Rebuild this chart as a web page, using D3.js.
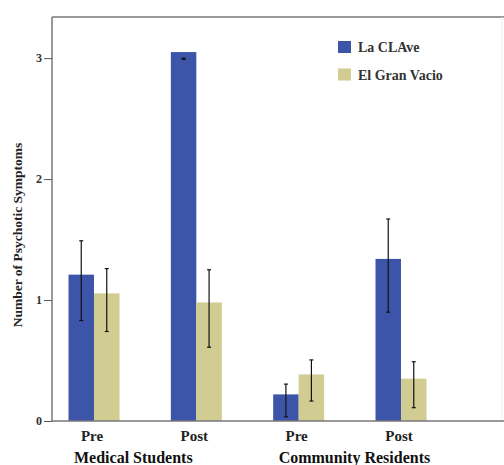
<!DOCTYPE html>
<html>
<head>
<meta charset="utf-8">
<script src="https://cdn.jsdelivr.net/npm/d3@7"></script>
<style>
  body { margin: 0; background: #fff; }
  text { font-family: "Liberation Serif", "DejaVu Serif", serif; font-weight: bold; }
</style>
</head>
<body>
<div id="chart"></div>
<script>
// Chart data
const groups = ["Medical Students", "Community Residents"];
const phases = ["Pre", "Post"];
const series = ["La CLAve", "El Gran Vacio"];
// means, one per group/phase, in order: MS Pre, MS Post, CR Pre, CR Post
const claveMeans = [1.21, 3.05, 0.22, 1.34];
const claveLow   = [0.83, 2.99, 0.035, 0.90];
const claveHigh  = [1.49, 3.00, 0.305, 1.67];
const vacioMeans = [1.055, 0.98, 0.385, 0.35];
const vacioLow   = [0.74, 0.61, 0.165, 0.11];
const vacioHigh  = [1.26, 1.25, 0.505, 0.49];
const yTicks = [0, 1, 2, 3];

const width = 504, height = 465;
const margin = {left: 52, right: 0, top: 17, bottom: 44};
const colors = ["#3c55a9", "#d0cc92"];

// Build rows for drawing
const cells = [];
groups.forEach(g => phases.forEach(p => cells.push(g + "|" + p)));
const rows = [];
cells.forEach((c, i) => {
    rows.push({cell: c, s: series[0], v: claveMeans[i], lo: claveLow[i], hi: claveHigh[i]});
    rows.push({cell: c, s: series[1], v: vacioMeans[i], lo: vacioLow[i], hi: vacioHigh[i]});
});

const svg = d3.select("#chart").append("svg")
    .attr("width", width)
    .attr("height", height);

const y = d3.scaleLinear()
    .domain([0, 3.34])
    .range([height - margin.bottom, margin.top]);

// x positions of the cells (centre of each pair of bars)
const x = d3.scalePoint()
    .domain(cells)
    .range([94, 401]);

const barW = 25.5;
const xs = d3.scaleBand().domain(series).range([-barW, barW]);

// frame lines
svg.append("line")
    .attr("x1", margin.left).attr("x2", width)
    .attr("y1", margin.top).attr("y2", margin.top)
    .attr("stroke", "#777").attr("stroke-width", 1.5);
svg.append("line")
    .attr("x1", 502).attr("x2", 502)
    .attr("y1", margin.top).attr("y2", height - margin.bottom)
    .attr("stroke", "#eee").attr("stroke-width", 1);

// bars
svg.append("g")
    .selectAll("rect")
    .data(rows)
    .join("rect")
    .attr("x", d => x(d.cell) + xs(d.s))
    .attr("width", xs.bandwidth())
    .attr("y", d => y(d.v))
    .attr("height", d => y(0) - y(d.v))
    .attr("fill", (d, i) => colors[i % 2]);

// error bars
const err = svg.append("g").attr("stroke", "#111").attr("stroke-width", 1.2);
err.selectAll("line.v")
    .data(rows)
    .join("line")
    .attr("class", "v")
    .attr("x1", d => x(d.cell) + xs(d.s) + xs.bandwidth() / 2)
    .attr("x2", d => x(d.cell) + xs(d.s) + xs.bandwidth() / 2)
    .attr("y1", d => y(d.lo))
    .attr("y2", d => y(d.hi));
["lo", "hi"].forEach(k => {
    err.selectAll("line." + k)
        .data(rows)
        .join("line")
        .attr("class", k)
        .attr("x1", d => x(d.cell) + xs(d.s) + xs.bandwidth() / 2 - 2)
        .attr("x2", d => x(d.cell) + xs(d.s) + xs.bandwidth() / 2 + 2)
        .attr("y1", d => y(d[k]))
        .attr("y2", d => y(d[k]));
});

// y axis
const yAxis = svg.append("g")
    .attr("transform", `translate(${margin.left},0)`)
    .call(d3.axisLeft(y).tickValues(yTicks).tickSize(8).tickPadding(2).tickFormat(d3.format("d")));
yAxis.select(".domain").attr("stroke", "#777").attr("stroke-width", 1.5)
    .attr("d", `M0,${margin.top}V${y(0)}`);
yAxis.selectAll(".tick line").attr("stroke", "#555");
yAxis.selectAll(".tick text")
    .attr("font-size", 12).attr("fill", "#333")
    .style("font-family", "'Liberation Serif', serif").style("font-weight", "bold");

// x axis baseline
svg.append("line")
    .attr("x1", margin.left).attr("x2", width)
    .attr("y1", y(0)).attr("y2", y(0))
    .attr("stroke", "#777").attr("stroke-width", 1.5);

// phase labels
svg.append("g")
    .selectAll("text")
    .data(cells)
    .join("text")
    .attr("x", d => x(d) - 2)
    .attr("y", 441)
    .attr("text-anchor", "middle")
    .attr("font-size", 15)
    .attr("fill", "#222")
    .text(d => d.split("|")[1]);

// group labels
svg.append("g")
    .selectAll("text")
    .data(groups)
    .join("text")
    .attr("x", g => x(g + "|Pre") - 20)
    .attr("y", 463)
    .attr("font-size", 16)
    .attr("fill", "#111")
    .text(g => g);

// y axis title
svg.append("text")
    .attr("transform", `translate(22,${(margin.top + y(0)) / 2 + 16}) rotate(-90)`)
    .attr("text-anchor", "middle")
    .attr("font-size", 13.5)
    .attr("fill", "#222")
    .text("Number of Psychotic Symptoms");

// legend
const legend = svg.append("g")
    .selectAll("g")
    .data(series)
    .join("g")
    .attr("transform", (d, i) => `translate(338,${41 + i * 27.5})`);
legend.append("rect")
    .attr("width", 13).attr("height", 12)
    .attr("fill", (d, i) => colors[i]);
legend.append("text")
    .attr("x", 20).attr("y", 11)
    .attr("font-size", 14)
    .attr("fill", "#333")
    .text(d => d);
</script>
</body>
</html>
